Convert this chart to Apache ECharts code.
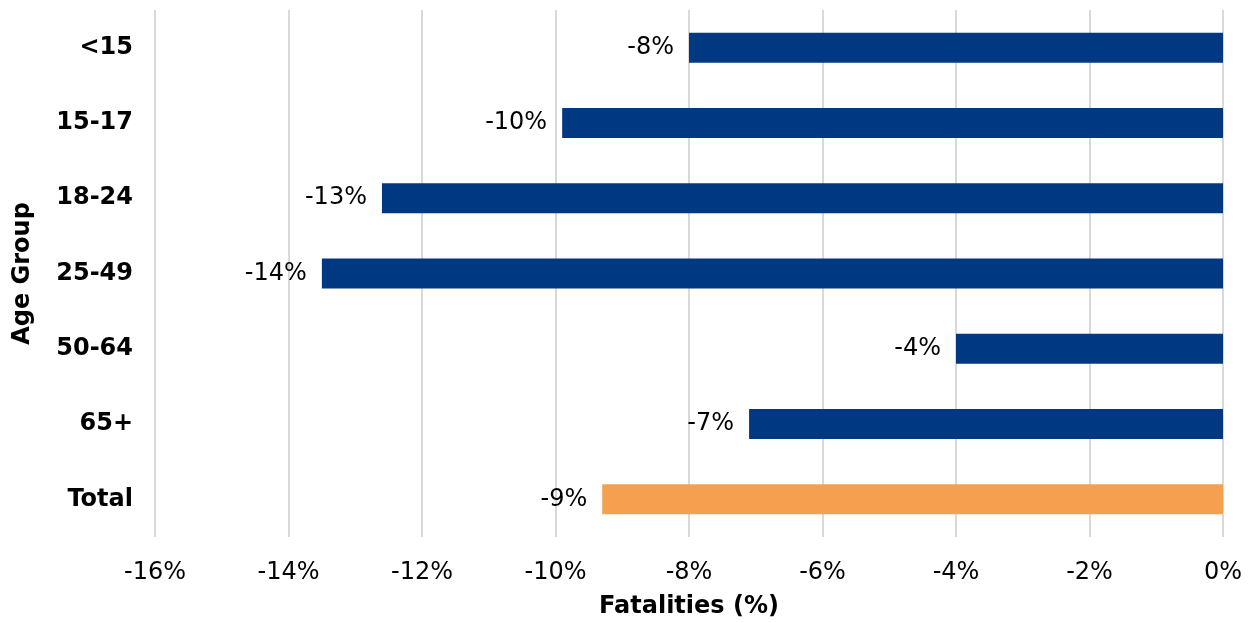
<!DOCTYPE html>
<html>
<head>
<meta charset="utf-8">
<script src="https://cdn.jsdelivr.net/npm/echarts@6/dist/echarts.min.js"></script>
<style>
html,body{margin:0;padding:0;background:#fff;}
#chart{width:1255px;height:623px;}
</style>
</head>
<body>
<div id="chart"></div>
<script>
const categories = ['<15', '15-17', '18-24', '25-49', '50-64', '65+', 'Total'];
const values = [-8.0, -9.9, -12.6, -13.5, -4.0, -7.1, -9.3];
const barColors = ['#003882', '#003882', '#003882', '#003882', '#003882', '#003882', '#F4A04F'];
const xTicks = { min: -16, max: 0, interval: 2 };

const FONT = '"DejaVu Sans", Verdana, sans-serif';
const chart = echarts.init(document.getElementById('chart'), null, { renderer: 'canvas' });

function roundAway(v) { return Math.sign(v) * Math.round(Math.abs(v)); }

chart.setOption({
  animation: false,
  backgroundColor: '#ffffff',
  grid: { left: 155, right: 32, top: 10, bottom: 86, containLabel: false, outerBoundsMode: 'none' },
  xAxis: {
    type: 'value',
    min: xTicks.min, max: xTicks.max, interval: xTicks.interval,
    name: 'Fatalities (%)',
    nameLocation: 'middle',
    nameGap: 58,
    nameTextStyle: { fontFamily: FONT, fontSize: 24, fontWeight: 'bold', color: '#000' },
    axisLine: { show: false },
    axisTick: { show: false },
    axisLabel: { fontFamily: FONT, fontSize: 24, color: '#000', margin: 24, formatter: v => v + '%' },
    splitLine: { show: true, lineStyle: { color: '#d9d9d9', width: 2 } }
  },
  yAxis: {
    type: 'category',
    data: categories,
    inverse: true,
    name: 'Age Group',
    nameLocation: 'middle',
    nameGap: 120,
    nameTextStyle: { fontFamily: FONT, fontSize: 24, fontWeight: 'bold', color: '#000' },
    axisLine: { show: false },
    axisTick: { show: false },
    axisLabel: { fontFamily: FONT, fontSize: 24, fontWeight: 'bold', color: '#000', margin: 22 },
    splitLine: { show: false }
  },
  series: [{
    type: 'bar',
    barWidth: 30,
    data: values.map((v, i) => ({ value: v, itemStyle: { color: barColors[i] } })),
    label: {
      show: true,
      position: 'left',
      distance: 15,
      fontFamily: FONT,
      fontSize: 24,
      color: '#000',
      formatter: p => roundAway(p.value) + '%'
    }
  }]
});
</script>
</body>
</html>
